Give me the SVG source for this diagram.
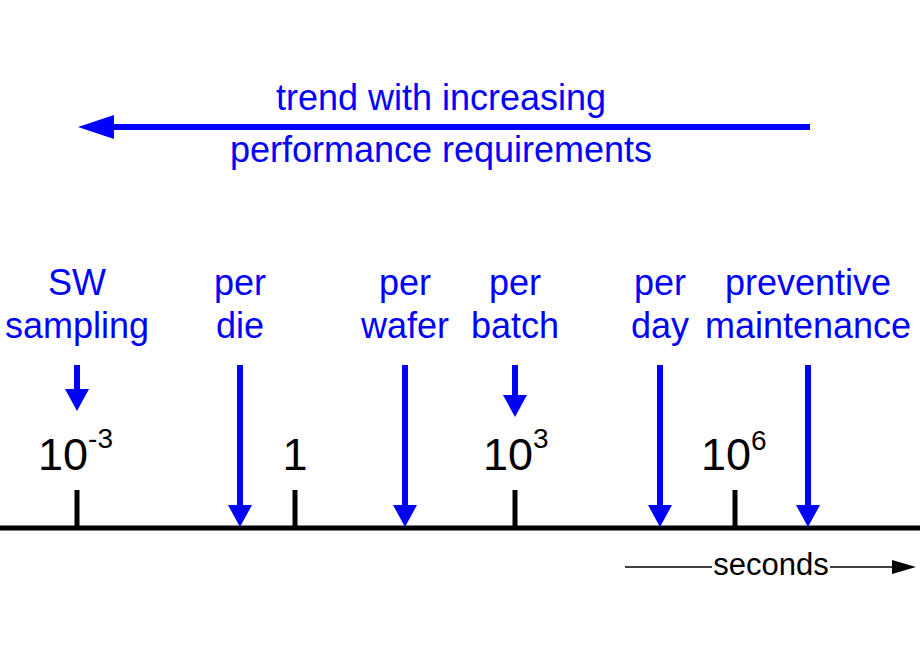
<svg xmlns="http://www.w3.org/2000/svg" width="920" height="660" viewBox="0 0 920 660">
<style>
.lbl{font-family:"Liberation Sans",Arial,sans-serif;font-size:36px;fill:#0000FF;text-anchor:middle}
.tick{font-family:"Liberation Sans",Arial,sans-serif;font-size:45px;fill:#000}
.sup{font-size:28px}
.blue{stroke:#0000FF;stroke-width:6;fill:none}
.blk{stroke:#000;stroke-width:5;fill:none}
.sec{font-family:"Liberation Sans",Arial,sans-serif;font-size:31px;fill:#000;text-anchor:middle}
</style>
<defs>
<marker id="bh" markerUnits="userSpaceOnUse" viewBox="0 0 22 24" refX="1" refY="12" markerWidth="22" markerHeight="24" orient="auto"><path d="M0,0 L22,12 L0,24 z" fill="#0000FF"/></marker>
<marker id="bigh" markerUnits="userSpaceOnUse" viewBox="0 0 36 24" refX="1" refY="12" markerWidth="36" markerHeight="24" orient="auto"><path d="M0,0 L36,12 L0,24 z" fill="#0000FF"/></marker>
<marker id="kh" markerUnits="userSpaceOnUse" viewBox="0 0 24 14" refX="1" refY="7" markerWidth="24" markerHeight="14" orient="auto"><path d="M0,0 L24,7 L0,14 z" fill="#000"/></marker>
</defs>

<g id="trend">
<text class="lbl" x="441" y="110">trend with increasing</text>
<text class="lbl" x="441" y="162">performance requirements</text>
</g>

<g id="axis">
<line class="blk" x1="0" y1="528" x2="920" y2="528"/>
<line class="blk" stroke-width="4" x1="77" y1="490" x2="77" y2="528"/>
<line class="blk" stroke-width="4" x1="295" y1="490" x2="295" y2="528"/>
<line class="blk" stroke-width="4" x1="515" y1="490" x2="515" y2="528"/>
<line class="blk" stroke-width="4" x1="735" y1="490" x2="735" y2="528"/>
</g>

<g id="tick-1e-3"><text class="tick" x="38" y="470">10<tspan class="sup" dy="-22">-3</tspan></text></g>
<g id="tick-1"><text class="tick" x="295" y="470" text-anchor="middle">1</text></g>
<g id="tick-1e3"><text class="tick" x="483" y="470">10<tspan class="sup" dy="-22">3</tspan></text></g>
<g id="tick-1e6"><text class="tick" x="701" y="470">10<tspan class="sup" dy="-20">6</tspan></text></g>

<g id="sw-sampling">
<text class="lbl" x="77" y="295">SW</text>
<text class="lbl" x="77" y="338">sampling</text>
</g>
<g id="per-die">
<text class="lbl" x="240" y="295">per</text>
<text class="lbl" x="240" y="338">die</text>
</g>
<g id="per-wafer">
<text class="lbl" x="405" y="295">per</text>
<text class="lbl" x="405" y="338">wafer</text>
</g>
<g id="per-batch">
<text class="lbl" x="515" y="295">per</text>
<text class="lbl" x="515" y="338">batch</text>
</g>
<g id="per-day">
<text class="lbl" x="660" y="295">per</text>
<text class="lbl" x="660" y="338">day</text>
</g>
<g id="preventive-maintenance">
<text class="lbl" x="808" y="295">preventive</text>
<text class="lbl" x="808" y="338">maintenance</text>
</g>

<g id="seconds">
<text class="sec" x="771" y="575">seconds</text>
</g>

<g id="connectors">
<line class="blue" x1="810" y1="127" x2="113" y2="127" marker-end="url(#bigh)"/>
<line class="blue" x1="77" y1="365" x2="77" y2="390" marker-end="url(#bh)"/>
<line class="blue" x1="240" y1="365" x2="240" y2="506" marker-end="url(#bh)"/>
<line class="blue" x1="405" y1="365" x2="405" y2="506" marker-end="url(#bh)"/>
<line class="blue" x1="515" y1="365" x2="515" y2="396" marker-end="url(#bh)"/>
<line class="blue" x1="660" y1="365" x2="660" y2="506" marker-end="url(#bh)"/>
<line class="blue" x1="808" y1="365" x2="808" y2="506" marker-end="url(#bh)"/>
<line stroke="#000" stroke-width="1.5" x1="625" y1="567" x2="712" y2="567"/>
<line stroke="#000" stroke-width="1.5" x1="830" y1="567" x2="893" y2="567" marker-end="url(#kh)"/>
</g>
</svg>
